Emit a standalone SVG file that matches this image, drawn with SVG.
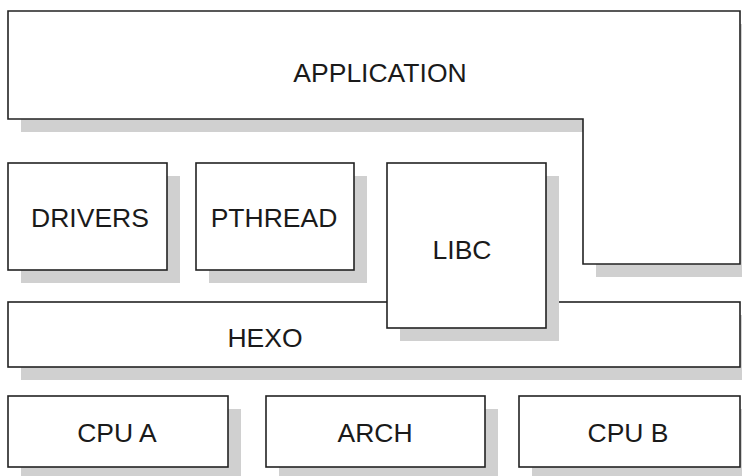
<svg xmlns="http://www.w3.org/2000/svg" width="742" height="476" viewBox="0 0 742 476">
<style>
.sh{fill:#d0d0d0;stroke:none}
.bx{fill:#ffffff;stroke:#222222;stroke-width:1.6}
.t{font-family:"Liberation Sans",Arial,sans-serif;font-size:26.5px;fill:#1a1a1a;text-anchor:middle}
</style>
<rect width="742" height="476" fill="#ffffff"/>
<g id="application">
<path class="sh" d="M21,24 H755 V277 H596 V132 H21 Z"/>
<path class="bx" d="M8,11 H740 V264 H583 V119 H8 Z"/>
<text class="t" x="380" y="82">APPLICATION</text>
</g>
<g id="drivers">
<rect class="sh" x="21" y="176" width="159" height="107"/>
<rect class="bx" x="8" y="163" width="159" height="107"/>
<text class="t" x="90" y="227">DRIVERS</text>
</g>
<g id="pthread">
<rect class="sh" x="209" y="176" width="158" height="107"/>
<rect class="bx" x="196" y="163" width="158" height="107"/>
<text class="t" x="274" y="227">PTHREAD</text>
</g>
<g id="hexo">
<rect class="sh" x="21" y="315" width="730" height="65"/>
<rect class="bx" x="8" y="302" width="732" height="65"/>
<text class="t" x="265" y="347">HEXO</text>
</g>
<g id="libc">
<rect class="sh" x="400" y="176" width="159" height="165"/>
<rect class="bx" x="387" y="163" width="159" height="165"/>
<text class="t" x="462" y="259">LIBC</text>
</g>
<g id="cpu-a">
<rect class="sh" x="21" y="409" width="220" height="71"/>
<rect class="bx" x="8" y="396" width="220" height="71"/>
<text class="t" x="117" y="442">CPU A</text>
</g>
<g id="arch">
<rect class="sh" x="279" y="409" width="219" height="71"/>
<rect class="bx" x="266" y="396" width="219" height="71"/>
<text class="t" x="375" y="442">ARCH</text>
</g>
<g id="cpu-b">
<rect class="sh" x="532" y="409" width="221" height="71"/>
<rect class="bx" x="519" y="396" width="221" height="71"/>
<text class="t" x="628" y="442">CPU B</text>
</g>
<g id="connectors"></g>
</svg>
